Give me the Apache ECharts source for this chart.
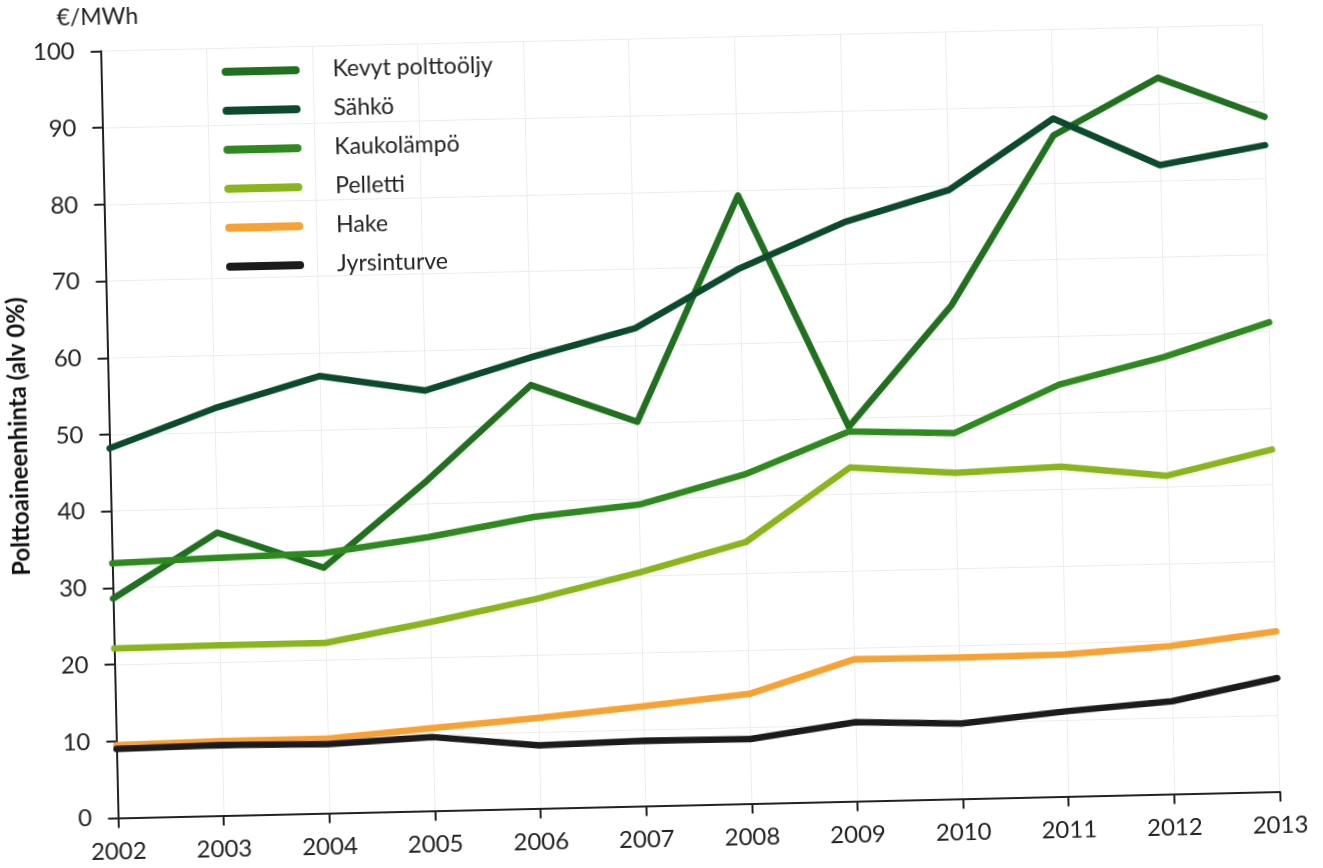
<!DOCTYPE html>
<html>
<head>
<meta charset="utf-8">
<script src="https://cdn.jsdelivr.net/npm/echarts@6/dist/echarts.min.js"></script>
<style>
  html, body { margin: 0; padding: 0; background: #ffffff; overflow: hidden; width: 1323px; height: 868px; }
  #chart { position: absolute; left: -40px; top: -40px; width: 1403px; height: 948px; background: #ffffff; transform: rotate(-1.3deg); transform-origin: 50% 50%; }
</style>
</head>
<body>
<div id="chart"></div>
<script>
const years = ['2002','2003','2004','2005','2006','2007','2008','2009','2010','2011','2012','2013'];
const seriesNames = ['Kevyt polttoöljy','Sähkö','Kaukolämpö','Pelletti','Hake','Jyrsinturve'];
const kevytPolttooljy = [28.6, 36.9, 32.0, 43.1, 55.2, 50.1, 79.3, 48.8, 64.4, 86.2, 93.4, 88.0];
const sahko          = [48.2, 53.1, 57.0, 54.8, 58.8, 62.3, 69.8, 75.5, 79.4, 88.4, 82.0, 84.3];
const kaukolampo     = [33.2, 33.6, 33.9, 35.7, 38.0, 39.3, 42.9, 48.2, 47.7, 53.7, 57.0, 61.2];
const pelletti       = [22.1, 22.2, 22.2, 24.6, 27.3, 30.5, 34.1, 43.5, 42.5, 43.0, 41.5, 44.6];
const hake           = [9.5, 9.7, 9.7, 10.8, 11.8, 13.0, 14.3, 18.5, 18.4, 18.5, 19.3, 20.9];
const jyrsinturve    = [9.0, 9.2, 9.0, 9.6, 8.2, 8.5, 8.4, 10.3, 9.8, 11.1, 12.1, 14.8];
const yMin = 0, yMax = 100, yStep = 10;
const unitLabel = '€/MWh';
const yAxisTitle = 'Polttoaineenhinta (alv 0%)';

const colors = ['#21701f', '#0b4a2b', '#2e8a1f', '#8ab51c', '#f8a234', '#1b1b1b'];
const values = [kevytPolttooljy, sahko, kaukolampo, pelletti, hake, jyrsinturve];
const FONT = 'Lato, "Open Sans", sans-serif';
const iconPath = 'path://M4,0 L74,0 A4,4 0 0 1 74,8 L4,8 A4,4 0 0 1 4,0 Z';

const chart = echarts.init(document.getElementById('chart'), null, { renderer: 'canvas' });
chart.setOption({
  animation: false,
  backgroundColor: '#ffffff',
  textStyle: { fontFamily: FONT },
  grid: { left: 149.5, top: 78.5, width: 1162, height: 767, containLabel: false },
  legend: {
    orient: 'vertical',
    left: 265,
    top: 85,
    data: seriesNames,
    icon: iconPath,
    itemWidth: 78,
    itemHeight: 8,
    itemGap: 15,
    textStyle: { fontFamily: FONT, fontSize: 23, color: '#222', padding: [0, 0, 0, 28], lineHeight: 24 }
  },
  graphic: [{
    type: 'text',
    x: 147, y: 45,
    style: { text: unitLabel, font: '23px ' + FONT, fill: '#222', textAlign: 'center', textVerticalAlign: 'middle' }
  }],
  xAxis: {
    type: 'category',
    data: years,
    boundaryGap: false,
    axisLine: { lineStyle: { color: '#222', width: 2 } },
    axisTick: { show: true, inside: false, length: 10, lineStyle: { color: '#222', width: 2 }, alignWithLabel: true },
    axisLabel: { fontFamily: FONT, fontSize: 24, color: '#222', margin: 22 },
    splitLine: { show: true, lineStyle: { color: '#ececec', width: 1 } }
  },
  yAxis: {
    type: 'value',
    min: yMin, max: yMax, interval: yStep,
    name: yAxisTitle,
    nameLocation: 'middle',
    nameGap: 63,
    nameRotate: 90,
    nameTextStyle: { fontFamily: FONT, fontSize: 24, fontWeight: 'bold', color: '#111' },
    axisLine: { show: true, lineStyle: { color: '#222', width: 2 } },
    axisTick: { show: true, inside: false, length: 10, lineStyle: { color: '#222', width: 2 } },
    axisLabel: { fontFamily: FONT, fontSize: 24, color: '#222', margin: 26 },
    splitLine: { show: true, lineStyle: { color: '#ececec', width: 1 } }
  },
  series: seriesNames.map((name, i) => ({
    name: name,
    type: 'line',
    data: values[i],
    showSymbol: false,
    symbol: 'none',
    color: colors[i],
    lineStyle: { color: colors[i], width: 6.5, cap: 'round', join: 'round' },
    z: 2 + i
  }))
});
</script>
</body>
</html>
